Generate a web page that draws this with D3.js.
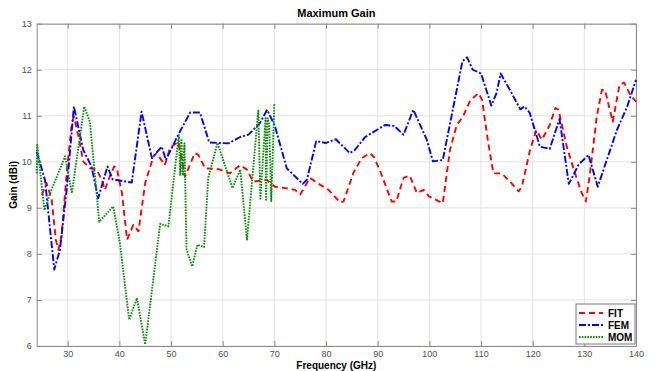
<!DOCTYPE html>
<html>
<head>
<meta charset="utf-8">
<script src="https://cdn.jsdelivr.net/npm/d3@7"></script>
<style>
  body { margin: 0; background: #fff; }
  svg text { font-family: "Liberation Sans", Arial, sans-serif; }
</style>
</head>
<body>
<svg id="chart" width="654" height="371"></svg>
<script>
// values
const fitFreq = [25.0, 25.9, 26.9, 27.7, 28.2, 28.8, 29.8, 30.8, 31.2, 32.1, 33.0, 34.3, 35.6, 36.6, 37.2, 38.1, 39.0, 39.5, 40.5, 41.5, 42.7, 43.7, 45.0, 46.6, 47.2, 48.8, 49.8, 51.4, 52.7, 54.6, 55.3, 56.6, 59.2, 61.4, 63.4, 64.7, 65.9, 68.5, 70.1, 72.1, 74.0, 75.0, 76.9, 78.9, 80.5, 82.7, 83.4, 85.3, 86.9, 88.5, 89.3, 90.5, 92.7, 93.6, 95.0, 96.2, 97.6, 98.9, 99.9, 102.6, 104.0, 105.3, 106.5, 107.9, 109.5, 110.2, 111.4, 112.4, 114.0, 115.6, 117.3, 117.9, 119.5, 120.7, 121.8, 123.3, 124.4, 125.0, 126.6, 128.2, 129.5, 130.3, 131.1, 132.4, 133.4, 134.0, 135.5, 136.8, 137.7, 138.9, 140.0];
const fitGain = [9.28, 9.54, 9.18, 8.31, 8.09, 8.38, 9.75, 10.84, 10.98, 10.55, 10.01, 9.86, 9.83, 9.61, 9.39, 9.67, 9.9, 9.86, 9.32, 8.31, 8.63, 8.49, 9.54, 10.12, 10.19, 9.93, 10.30, 10.44, 9.68, 10.19, 10.15, 9.86, 9.84, 9.75, 9.93, 9.83, 9.57, 9.61, 9.46, 9.43, 9.39, 9.29, 9.65, 9.50, 9.39, 9.12, 9.14, 9.76, 10.08, 10.19, 10.10, 9.79, 9.14, 9.14, 9.65, 9.70, 9.32, 9.39, 9.25, 9.10, 10.26, 10.80, 10.98, 11.33, 11.49, 11.35, 10.41, 9.75, 9.75, 9.57, 9.36, 9.46, 10.26, 10.69, 10.48, 10.80, 11.17, 11.13, 10.33, 9.75, 9.32, 9.14, 9.75, 10.98, 11.56, 11.56, 10.87, 11.67, 11.72, 11.45, 11.31];

const femFreq = [24.0, 25.6, 27.4, 28.5, 29.8, 31.2, 33.0, 34.6, 35.9, 37.7, 38.7, 42.4, 44.3, 46.3, 48.2, 49.0, 51.4, 53.7, 55.6, 57.4, 61.1, 63.4, 65.0, 67.2, 68.6, 70.1, 72.4, 75.5, 76.3, 78.1, 80.0, 81.9, 84.6, 85.6, 87.6, 91.4, 93.2, 95.0, 96.9, 99.5, 100.7, 102.6, 106.4, 107.3, 108.4, 110.0, 112.0, 113.0, 113.8, 115.6, 117.6, 118.4, 119.4, 121.4, 123.3, 125.2, 127.0, 128.9, 130.8, 132.6, 136.3, 138.3, 140.0];
const femGain = [10.22, 9.61, 7.66, 8.09, 9.39, 11.2, 10.26, 9.9, 9.21, 9.9, 9.62, 9.55, 11.09, 10.08, 10.33, 10.04, 10.59, 11.07, 11.07, 10.42, 10.40, 10.54, 10.59, 10.84, 11.13, 10.78, 9.86, 9.52, 9.61, 10.45, 10.41, 10.49, 10.19, 10.26, 10.54, 10.80, 10.78, 10.59, 11.13, 10.48, 10.01, 10.04, 12.18, 12.27, 12.0, 11.92, 11.22, 11.49, 11.92, 11.56, 11.14, 11.2, 11.07, 10.33, 10.28, 10.93, 9.52, 9.94, 10.15, 9.46, 10.69, 11.2, 11.78];

const momFreq = [24.0, 24.1, 25.5, 26.6, 29.5, 30.8, 33.2, 34.3, 36.1, 38.8, 40.1, 41.9, 43.4, 45.0, 47.9, 49.5, 51.5, 51.8, 52.0, 52.3, 52.6, 53.0, 54.1, 55.1, 56.4, 57.2, 59.0, 61.9, 63.4, 64.7, 66.9, 67.3, 68.3, 68.4, 68.7, 69.0, 69.4, 70.0];
const momGain = [9.75, 10.37, 8.95, 9.32, 10.12, 9.32, 11.2, 10.87, 8.70, 9.03, 8.24, 6.57, 7.04, 6.03, 8.65, 8.60, 10.58, 9.7, 10.5, 9.7, 10.4, 8.09, 7.73, 8.2, 8.15, 9.65, 10.41, 9.43, 9.83, 8.31, 11.13, 9.2, 10.95, 9.15, 10.95, 10.8, 9.15, 11.27];

const xTicks = [30, 40, 50, 60, 70, 80, 90, 100, 110, 120, 130, 140];
const yTicks = [6, 7, 8, 9, 10, 11, 12, 13];

const series = [
  {name: "FIT", x: fitFreq, y: fitGain, color: "#ff0000", dash: "6,4"},
  {name: "FEM", x: femFreq, y: femGain, color: "#0000ff", dash: "7,2,2,2"},
  {name: "MOM", x: momFreq, y: momGain, color: "#0a8a0a", dash: "1.6,1.2"}
];

const pLeft = 36.7, pRight = 636, pTop = 23.7, pBottom = 346;
const svg = d3.select("#chart");

const x = d3.scaleLinear().domain([24, 140]).range([pLeft, pRight]);
const y = d3.scaleLinear().domain([6, 13]).range([pBottom, pTop]);

// grid
const grid = svg.append("g");
grid.selectAll(".gx").data(xTicks).enter().append("line")
  .attr("x1", d => x(d)).attr("x2", d => x(d))
  .attr("y1", pTop).attr("y2", pBottom)
  .attr("stroke", "#e3e3e3").attr("stroke-width", 1);
grid.selectAll(".gy").data(yTicks).enter().append("line")
  .attr("x1", pLeft).attr("x2", pRight)
  .attr("y1", d => y(d)).attr("y2", d => y(d))
  .attr("stroke", "#e3e3e3").attr("stroke-width", 1);

// axes, ticks pointing inside like matlab
const axisColor = "#8a8a8a";
const fmt = d3.format("d");
const xAxis = svg.append("g")
  .attr("transform", `translate(0,${pBottom})`)
  .call(d3.axisBottom(x).tickValues(xTicks).tickFormat(fmt).tickSizeInner(-5).tickSizeOuter(0).tickPadding(5));
const xAxisTop = svg.append("g")
  .attr("transform", `translate(0,${pTop})`)
  .call(d3.axisTop(x).tickValues(xTicks).tickSizeInner(-5).tickSizeOuter(0).tickFormat(""));
const yAxis = svg.append("g")
  .attr("transform", `translate(${pLeft},0)`)
  .call(d3.axisLeft(y).tickValues(yTicks).tickFormat(fmt).tickSizeInner(-5).tickSizeOuter(0).tickPadding(5));
const yAxisRight = svg.append("g")
  .attr("transform", `translate(${pRight},0)`)
  .call(d3.axisRight(y).tickValues(yTicks).tickSizeInner(-5).tickSizeOuter(0).tickFormat(""));

[xAxis, xAxisTop, yAxis, yAxisRight].forEach(a => {
  a.select(".domain").attr("stroke", axisColor);
  a.selectAll(".tick line").attr("stroke", axisColor);
  a.selectAll(".tick text").attr("fill", "#505050")
    .style("font-size", "9px").style("font-family", "'Liberation Sans', Arial, sans-serif");
});

// lines
const line = d3.line().x(d => x(d[0])).y(d => y(d[1]));
const plot = svg.append("g");
series.forEach(s => {
  plot.append("path")
    .datum(d3.zip(s.x, s.y))
    .attr("d", line)
    .attr("fill", "none")
    .attr("stroke", s.color)
    .attr("stroke-width", 1.9)
    .attr("stroke-dasharray", s.dash)
    .attr("stroke-linejoin", "round");
});

// titles
svg.append("text").attr("x", (pLeft + pRight) / 2).attr("y", 17)
  .attr("text-anchor", "middle").style("font-size", "11px").style("font-weight", "bold")
  .text("Maximum Gain");
svg.append("text").attr("x", (pLeft + pRight) / 2).attr("y", 369)
  .attr("text-anchor", "middle").style("font-size", "10px").style("font-weight", "bold")
  .text("Frequency (GHz)");
svg.append("text").attr("transform", `translate(17,${(pTop + pBottom) / 2}) rotate(-90)`)
  .attr("text-anchor", "middle").style("font-size", "10px").style("font-weight", "bold")
  .text("Gain (dBi)");

// legend
const lg = svg.append("g").attr("transform", "translate(576,304)");
lg.append("rect").attr("width", 59).attr("height", 40)
  .attr("fill", "#fff").attr("stroke", "#7a7a7a").attr("stroke-width", 1);
series.forEach((s, i) => {
  const ly = 9 + i * 12;
  lg.append("line").attr("x1", 3).attr("x2", 27).attr("y1", ly).attr("y2", ly)
    .attr("stroke", s.color).attr("stroke-width", 1.9).attr("stroke-dasharray", s.dash);
  lg.append("text").attr("x", 32).attr("y", ly + 3.5)
    .style("font-size", "10px").style("font-weight", "bold").text(s.name);
});
</script>
</body>
</html>
